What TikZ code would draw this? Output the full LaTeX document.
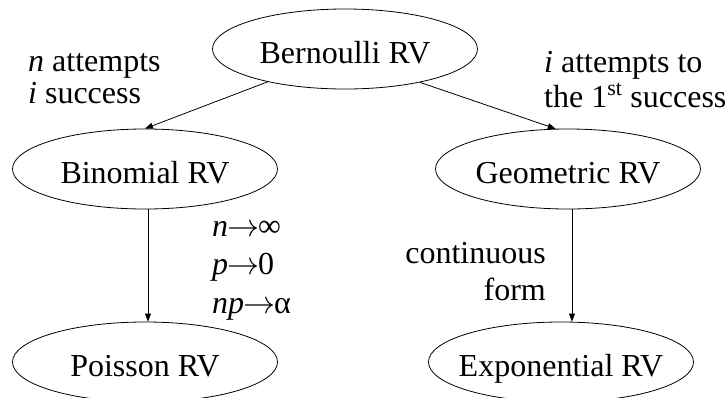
\RequirePackage{fix-cm}
\documentclass[tikz,border=0pt]{standalone}
\usepackage{fontspec}
\setmainfont{Liberation Serif}
\usetikzlibrary{arrows.meta,shapes.geometric}
\DeclareMathSizes{32}{32}{22}{16}
\newcommand\zb[1]{\makebox[0pt]{#1}}
\newcommand\stk[2]{\begin{tabular}[t]{@{}#1@{}}#2\end{tabular}}
\newcommand\ra{\kern-1pt$\rightarrow$\kern-1pt}
\begin{document}
\begin{tikzpicture}[x=1pt,y=-1pt,
  rv/.style={draw,ellipse,line width=0.8pt,inner sep=0pt,minimum width=265pt,minimum height=80pt,
    text height=30pt,text depth=2pt,font=\fontsize{32}{32}\selectfont},
  lbl/.style={inner sep=0pt},
  arr/.style={-{Triangle[length=8pt,width=6pt]},line width=0.8pt}]
\clip (0,0) rectangle (726,397);
\node[rv] (bern)  at (345,49)  {\zb{Bernoulli RV}};
\node[rv] (binom) at (145,169) {\zb{Binomial RV}};
\node[rv] (geo)   at (568,169) {\zb{Geometric RV}};
\node[rv] (pois)  at (145,362) {\zb{Poisson RV}};
\node[rv] (expo)  at (561,362) {\zb{Exponential RV}};
\node[lbl,anchor=base west] (lblbin) at (28,71)
  {\fontsize{32}{32.5}\selectfont\stk{l}{\textit{n} attempts\\ \textit{i} success}};
\node[lbl,anchor=base west] (lblgeo) at (544,72)
  {\fontsize{32}{35.5}\selectfont\stk{l}{\textit{i} attempts to\\ the 1\textsuperscript{st} success}};
\node[lbl,anchor=base west] (lblpois) at (212,236)
  {\fontsize{32}{38.5}\selectfont\stk{l}{\textit{n}\ra{}∞\\ \textit{p}\ra{}0\\ \textit{np}\ra{}α}};
\node[lbl,anchor=base east] (lblexp) at (546,263)
  {\fontsize{32}{37}\selectfont\stk{r}{continuous\\ form}};
\draw[arr] (bern.203) -- (binom.north);
\draw[arr] (bern.-24) -- (geo.107);
\draw[arr] ([xshift=3pt]binom.south) -- ([xshift=3pt]pois.north);
\draw[arr] ([xshift=4pt]geo.south) -- ([xshift=4pt]geo.south |- expo.north);
\end{tikzpicture}
\end{document}
